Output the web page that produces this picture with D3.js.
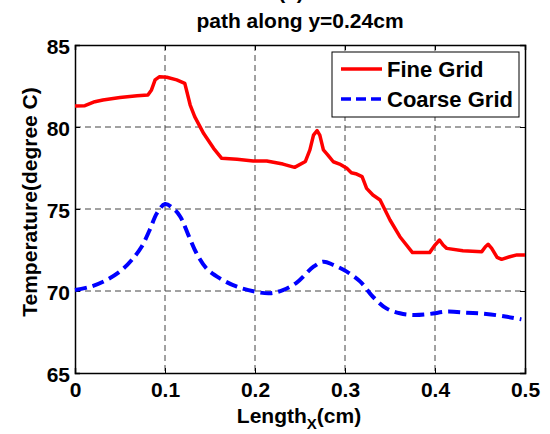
<!doctype html>
<html>
<head>
<style>
  body { margin: 0; background: #fff; }
  text { font-family: "Liberation Sans", Arial, sans-serif; font-weight: bold; }
</style>
<script src="https://d3js.org/d3.v7.min.js"></script>
</head>
<body>
<svg id="chart" width="550" height="434"></svg>
<script>
// readings
var fineX = [0, 0.011, 0.022, 0.031, 0.05, 0.069, 0.081, 0.085, 0.089, 0.094, 0.102, 0.113, 0.122, 0.128, 0.133,
             0.143, 0.154, 0.163, 0.18, 0.198, 0.213, 0.231, 0.244, 0.256, 0.261, 0.265, 0.269, 0.272, 0.276,
             0.281, 0.287, 0.294, 0.302, 0.307, 0.313, 0.319, 0.324, 0.331, 0.339, 0.35, 0.361, 0.375, 0.394,
             0.4, 0.405, 0.409, 0.413, 0.431, 0.452, 0.456, 0.459, 0.463, 0.469, 0.474, 0.483, 0.491, 0.5];
var fineT = [81.28, 81.3, 81.54, 81.65, 81.8, 81.9, 81.95, 82.26, 82.87, 83.07, 83.03, 82.87, 82.66, 81.34, 80.63,
             79.6, 78.7, 78.09, 78.03, 77.93, 77.93, 77.74, 77.54, 77.9, 78.6, 79.5, 79.78, 79.5, 78.6,
             78.29, 77.88, 77.74, 77.48, 77.21, 77.13, 76.97, 76.26, 75.85, 75.55, 74.33, 73.31, 72.34, 72.34,
             72.8, 73.11, 72.8, 72.6, 72.46, 72.4, 72.7, 72.85, 72.6, 72.05, 71.93, 72.09, 72.2, 72.2];

var coarseX = [0, 0.017, 0.035, 0.052, 0.063, 0.074, 0.083, 0.091, 0.1, 0.109, 0.117, 0.126, 0.135, 0.146,
               0.161, 0.18, 0.2, 0.217, 0.231, 0.246, 0.265, 0.276, 0.287, 0.302, 0.317, 0.331, 0.346, 0.361,
               0.376, 0.394, 0.413, 0.435, 0.457, 0.48, 0.496];
var coarseT = [70.06, 70.26, 70.67, 71.28, 71.89, 72.7, 73.72, 74.74, 75.3, 75.04, 74.53, 73.41, 72.3, 71.38,
               70.77, 70.26, 69.96, 69.86, 70.06, 70.5, 71.48, 71.79, 71.59, 71.18, 70.57, 69.65, 68.94, 68.64,
               68.54, 68.6, 68.74, 68.68, 68.6, 68.43, 68.27];

var xTicks = [0, 0.1, 0.2, 0.3, 0.4, 0.5];
var yTicks = [65, 70, 75, 80, 85];

var svg = d3.select("#chart"),
    pLeft = 75, pRight = 525, pTop = 45, pBottom = 373;

var x = d3.scaleLinear().domain([0, 0.5]).range([pLeft, pRight]),
    y = d3.scaleLinear().domain([65, 85]).range([pBottom, pTop]);

// grid
svg.append("g")
   .selectAll("line")
   .data(xTicks.slice(1, -1))
   .enter().append("line")
   .attr("x1", function(d) { return x(d); })
   .attr("x2", function(d) { return x(d); })
   .attr("y1", pTop).attr("y2", pBottom)
   .attr("stroke", "#444").attr("stroke-dasharray", "6,4");

svg.append("g")
   .selectAll("line")
   .data(yTicks.slice(1, -1))
   .enter().append("line")
   .attr("y1", function(d) { return y(d); })
   .attr("y2", function(d) { return y(d); })
   .attr("x1", pLeft).attr("x2", pRight)
   .attr("stroke", "#444").attr("stroke-dasharray", "6,4");

// axes (ticks pointing inward, mirrored on top and right)
var fmtX = function(d) { return d === 0 ? "0" : d3.format(".1f")(d); };

svg.append("g")
   .attr("transform", "translate(0," + pBottom + ")")
   .call(d3.axisBottom(x).tickValues(xTicks).tickSize(-5).tickPadding(9).tickFormat(fmtX))
   .call(function(g) {
       g.selectAll("text").attr("font-size", "21px").attr("fill", "#000")
        .attr("dy", null).attr("y", 24);
   });

svg.append("g")
   .attr("transform", "translate(0," + pTop + ")")
   .call(d3.axisTop(x).tickValues(xTicks).tickSize(-5).tickFormat(""));

svg.append("g")
   .attr("transform", "translate(" + pLeft + ",0)")
   .call(d3.axisLeft(y).tickValues(yTicks).tickSize(-5).tickPadding(5))
   .call(function(g) { g.selectAll("text").attr("font-size", "21px").attr("fill", "#000").attr("dy", "0.4em"); });

svg.append("g")
   .attr("transform", "translate(" + pRight + ",0)")
   .call(d3.axisRight(y).tickValues(yTicks).tickSize(-5).tickFormat(""));

svg.selectAll(".domain").attr("stroke", "#000").attr("stroke-width", 1.5);
svg.selectAll(".tick line").attr("stroke", "#000");

// lines
var fine = fineX.map(function(d, i) { return [d, fineT[i]]; }),
    coarse = coarseX.map(function(d, i) { return [d, coarseT[i]]; });

var line = d3.line()
    .x(function(d) { return x(d[0]); })
    .y(function(d) { return y(d[1]); });

svg.append("path")
   .datum(fine)
   .attr("d", line.curve(d3.curveLinear))
   .attr("fill", "none")
   .attr("stroke", "#ff0000")
   .attr("stroke-width", 3.5)
   .attr("stroke-linejoin", "round");

svg.append("path")
   .datum(coarse)
   .attr("d", line.curve(d3.curveCatmullRom))
   .attr("fill", "none")
   .attr("stroke", "#0000ff")
   .attr("stroke-width", 4)
   .attr("stroke-dasharray", "12,6");

// legend
var lg = svg.append("g");
lg.append("rect")
  .attr("x", 332).attr("y", 52).attr("width", 187).attr("height", 65)
  .attr("fill", "#fff").attr("stroke", "#000").attr("stroke-width", 1);
var items = [["Fine Grid", "#ff0000", null], ["Coarse Grid", "#0000ff", "10,5"]];
items.forEach(function(it, i) {
    var yy = 69 + i * 30;
    lg.append("line")
      .attr("x1", 341).attr("x2", 382).attr("y1", yy).attr("y2", yy)
      .attr("stroke", it[1]).attr("stroke-width", 3.5)
      .attr("stroke-dasharray", it[2]);
    lg.append("text")
      .attr("x", 387).attr("y", yy + 8)
      .attr("font-size", "22px")
      .text(it[0]);
});

// titles
svg.append("text")
   .attr("x", 291).attr("y", -1)
   .attr("text-anchor", "middle")
   .attr("font-size", "21px")
   .text("(c)");

svg.append("text")
   .attr("x", 300).attr("y", 28)
   .attr("text-anchor", "middle")
   .attr("font-size", "21px")
   .text("path along y=0.24cm");

var xl = svg.append("text")
   .attr("x", 299).attr("y", 423)
   .attr("text-anchor", "middle")
   .attr("font-size", "21px");
xl.append("tspan").text("Length");
xl.append("tspan").attr("font-size", "15px").attr("dy", 6).text("X");
xl.append("tspan").attr("dy", -6).text("(cm)");

svg.append("text")
   .attr("transform", "translate(37,202) rotate(-90)")
   .attr("text-anchor", "middle")
   .attr("font-size", "21px")
   .text("Temperature(degree C)");
</script>
</body>
</html>
